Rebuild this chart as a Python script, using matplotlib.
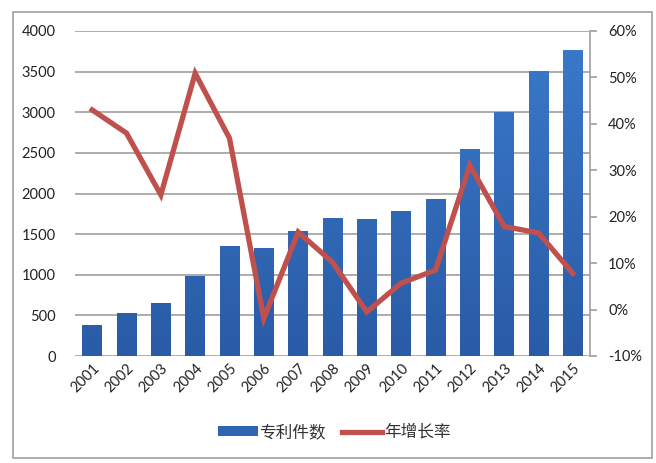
import numpy as np
import matplotlib.pyplot as plt
from matplotlib.patches import Patch, Rectangle
from matplotlib.lines import Line2D
from matplotlib.colors import LinearSegmentedColormap
from matplotlib.ticker import FuncFormatter

plt.rcParams['font.family'] = ['Lato', 'Noto Sans CJK SC', 'DejaVu Sans']

years = ['2001', '2002', '2003', '2004', '2005', '2006', '2007', '2008',
         '2009', '2010', '2011', '2012', '2013', '2014', '2015']
patents = [380, 525, 648, 985, 1354, 1325, 1540, 1700,
           1686, 1785, 1932, 2548, 3007, 3508, 3766]
growth = [43.0, 38.0, 24.7, 50.9, 36.9, -1.9, 16.7, 10.2,
          -0.5, 5.7, 8.5, 31.1, 17.9, 16.5, 7.8]

bar_color = '#3470C0'
line_color = '#C0504D'
grid_color = '#A6A6A6'
bar_cmap = LinearSegmentedColormap.from_list('bars', ['#2A5BA6', '#3A7ACB'])

fig = plt.figure(figsize=(6.56, 4.63), dpi=100)
# outer chart border
fig.patches.append(Rectangle((13 / 656, 5 / 463), 639 / 656, 446 / 463, transform=fig.transFigure,
                             fill=False, edgecolor='#A0A0A0', linewidth=1.2))

ax = fig.add_axes([75 / 656, 107 / 463, 515 / 656, 325 / 463])
x = list(range(len(years)))
bars = ax.bar(x, patents, width=0.58, color=bar_color, edgecolor='none', zorder=2)
ax.set_xlim(-0.5, len(years) - 0.5)
ax.set_ylim(0, 4000)

# vertical gradient inside each bar, lighter at the top
grad = np.linspace(0, 1, 256).reshape(-1, 1)
for b in bars:
    bx, by = b.get_xy()
    w, h = b.get_width(), b.get_height()
    im = ax.imshow(grad, cmap=bar_cmap, origin='lower', aspect='auto',
                   extent=(bx, bx + w, 0, 4000), zorder=2.1)
    im.set_clip_path(b)

ax.set_yticks(range(0, 4001, 500))
ax.yaxis.grid(True, color=grid_color, linewidth=1.3, zorder=0)
ax.set_axisbelow(True)
for s in ['left', 'top', 'right', 'bottom']:
    ax.spines[s].set_visible(False)
ax.tick_params(axis='y', length=0, pad=14, labelsize=10.5, labelcolor='#222222')
ax.tick_params(axis='x', length=0, pad=4, labelsize=10.5, labelcolor='#222222')
ax.set_xticks(x)
ax.set_xticklabels(years, rotation=45, ha='right', rotation_mode='anchor')

ax2 = ax.twinx()
ax2.plot(x, [g / 100 for g in growth], color=line_color, linewidth=3.8, zorder=3,
         solid_joinstyle='miter')
ax2.set_ylim(-0.10, 0.60)
ax2.set_yticks([i / 100 for i in range(-10, 61, 10)])
ax2.yaxis.set_major_formatter(FuncFormatter(lambda v, p: '{:.0f}%'.format(v * 100)))
for s in ['left', 'top', 'bottom']:
    ax2.spines[s].set_visible(False)
ax2.spines['right'].set_color(grid_color)
ax2.spines['right'].set_linewidth(1.3)
ax2.tick_params(axis='y', direction='out', length=5, width=1.3, color=grid_color,
                pad=8, labelsize=10.5, labelcolor='#222222')

handles = [Patch(facecolor='#2F66B4', edgecolor='none', label='专利件数'),
           Line2D([0], [0], color=line_color, linewidth=3.8, label='年增长率')]
fig.legend(handles=handles, loc='center', bbox_to_anchor=(334 / 656, 1 - 432 / 463), ncol=2,
           frameon=False, fontsize=12, handlelength=2.4, handleheight=0.55,
           handletextpad=0.1, columnspacing=1.0, labelcolor='#333333')

fig.savefig('out.png', dpi=100)
